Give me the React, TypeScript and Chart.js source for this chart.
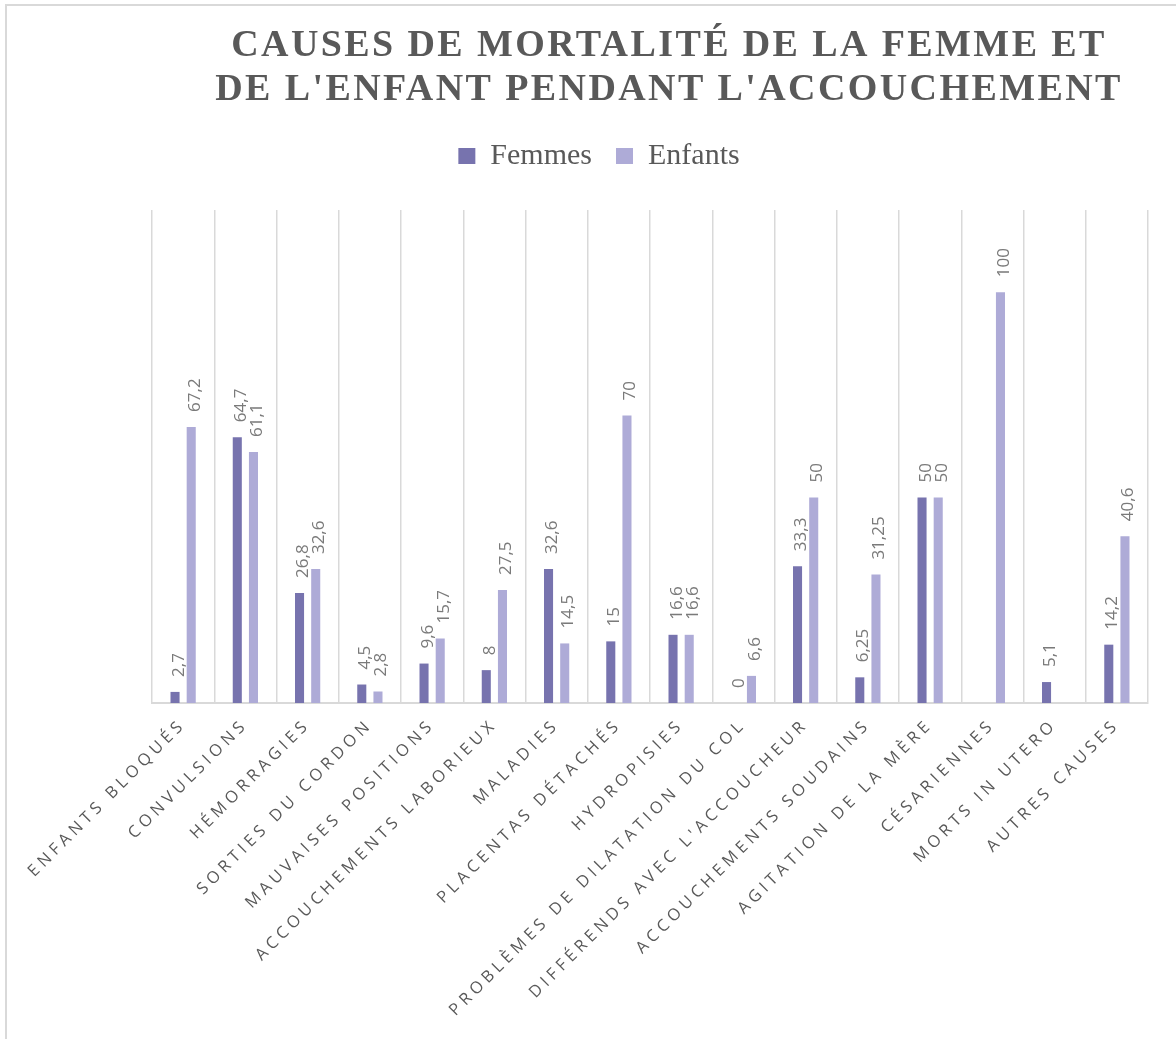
import React, { useEffect, useRef } from 'react';
import { Chart, registerables } from 'chart.js';

Chart.register(...registerables);

const categories = [
  'Enfants bloqués',
  'Convulsions',
  'Hémorragies',
  'Sorties du cordon',
  'Mauvaises positions',
  'Accouchements laborieux',
  'Maladies',
  'Placentas détachés',
  'Hydropisies',
  'Problèmes de dilatation du col',
  "Différends avec l'accoucheur",
  'Accouchements soudains',
  'Agitation de la mère',
  'Césariennes',
  'Morts in utero',
  'Autres causes',
];
const seriesNames = ['Femmes', 'Enfants'];
const femmes = [2.7, 64.7, 26.8, 4.5, 9.6, 8, 32.6, 15, 16.6, 0, 33.3, 6.25, 50, null, 5.1, 14.2];
const enfants = [67.2, 61.1, 32.6, 2.8, 15.7, 27.5, 14.5, 70, 16.6, 6.6, 50, 31.25, 50, 100, null, 40.6];
const titleLines = ['CAUSES DE MORTALITÉ DE LA FEMME ET', "DE L'ENFANT PENDANT L'ACCOUCHEMENT"];
const yMax = 120;

const dataLabelPlugin = {
  id: 'barValueLabels',
  afterDatasetsDraw(chart: any) {
    const ctx = chart.ctx;
    ctx.save();
    ctx.font = '17px "Open Sans"';
    ctx.fillStyle = '#7a7a7a';
    ctx.textAlign = 'left';
    ctx.textBaseline = 'alphabetic';
    chart.data.datasets.forEach((ds: any, di: number) => {
      const meta = chart.getDatasetMeta(di);
      meta.data.forEach((bar: any, i: number) => {
        const v = ds.data[i];
        if (v === null || v === undefined) return;
        const text = String(v).replace('.', ',');
        ctx.save();
        ctx.translate(bar.x + 8.5, bar.y - 15);
        ctx.rotate(-Math.PI / 2);
        ctx.fillText(text, 0, 0);
        ctx.restore();
      });
    });
    ctx.restore();
  },
};

function wrapDraw(obj: any, method: string, opts: { dx?: number; dy?: number; ls?: string }) {
  if (!obj || !obj[method] || obj['__patched_' + method]) return;
  const orig = obj[method].bind(obj);
  obj[method] = function (...args: any[]) {
    const ctx = obj.ctx;
    ctx.save();
    if (opts.dx || opts.dy) ctx.translate(opts.dx || 0, opts.dy || 0);
    if (opts.ls) ctx.letterSpacing = opts.ls;
    orig(...args);
    ctx.letterSpacing = '0px';
    ctx.restore();
  };
  obj['__patched_' + method] = true;
}

const stylePatchPlugin = {
  id: 'stylePatch',
  beforeDraw(chart: any) {
    wrapDraw(chart.titleBlock, 'draw', { dx: 19, ls: '2.4px' });
    wrapDraw(chart.legend, 'draw', { dx: -51, dy: -29 });
    wrapDraw(chart.scales.x, 'drawLabels', { ls: '4.3px' });
  },
};

export default function App() {
  const ref = useRef<HTMLCanvasElement>(null);

  useEffect(() => {
    if (!ref.current) return;
    const chart = new Chart(ref.current, {
      type: 'bar',
      data: {
        labels: categories,
        datasets: [
          {
            label: seriesNames[0],
            data: femmes,
            backgroundColor: '#7773ae',
            borderWidth: 0,
            categoryPercentage: 0.52,
            barPercentage: 0.56,
          },
          {
            label: seriesNames[1],
            data: enfants,
            backgroundColor: '#aeabd7',
            borderWidth: 0,
            categoryPercentage: 0.52,
            barPercentage: 0.56,
          },
        ],
      },
      options: {
        responsive: false,
        animation: false,
        layout: { padding: { left: 152, right: 28, top: 0, bottom: 0 } },
        plugins: {
          title: {
            display: true,
            text: titleLines,
            color: '#595959',
            font: { family: '"Liberation Serif"', size: 38, weight: 'bold', lineHeight: 44 / 38 },
            padding: { top: 24, bottom: 34 },
          },
          legend: {
            display: true,
            position: 'top',
            labels: {
              color: '#595959',
              font: { family: '"Liberation Serif"', size: 30 },
              boxWidth: 17,
              boxHeight: 16,
              padding: 24,
            },
          },
          tooltip: { enabled: false },
        },
        scales: {
          x: {
            type: 'category',
            grid: { display: true, color: '#d9d9d9', lineWidth: 1.5, drawTicks: false, offset: true },
            border: { display: true, color: '#d9d9d9', width: 2 },
            ticks: {
              autoSkip: false,
              maxRotation: 45,
              minRotation: 45,
              color: '#595959',
              font: { family: '"Open Sans"', size: 16.5 },
              padding: 12,
              callback: function (this: any, value: any) {
                return String(this.getLabelForValue(value)).toUpperCase();
              },
            },
            afterFit: (scale: any) => {
              scale.height = 336;
            },
          },
          y: {
            display: false,
            min: 0,
            max: yMax,
          },
        },
      },
      plugins: [dataLabelPlugin, stylePatchPlugin],
    } as any);
    return () => chart.destroy();
  }, []);

  return (
    <div
      style={{
        position: 'absolute',
        left: 0,
        top: 0,
        width: 1176,
        height: 1039,
        overflow: 'hidden',
        background: '#ffffff',
      }}
    >
      <div
        style={{
          position: 'absolute',
          left: 5,
          top: 4,
          width: 1300,
          height: 1200,
          borderLeft: '2px solid #d9d9d9',
          borderTop: '2px solid #d9d9d9',
        }}
      />
      <canvas
        ref={ref}
        width={1176}
        height={1039}
        style={{ position: 'absolute', left: 0, top: 0, width: 1176, height: 1039 }}
      />
    </div>
  );
}
